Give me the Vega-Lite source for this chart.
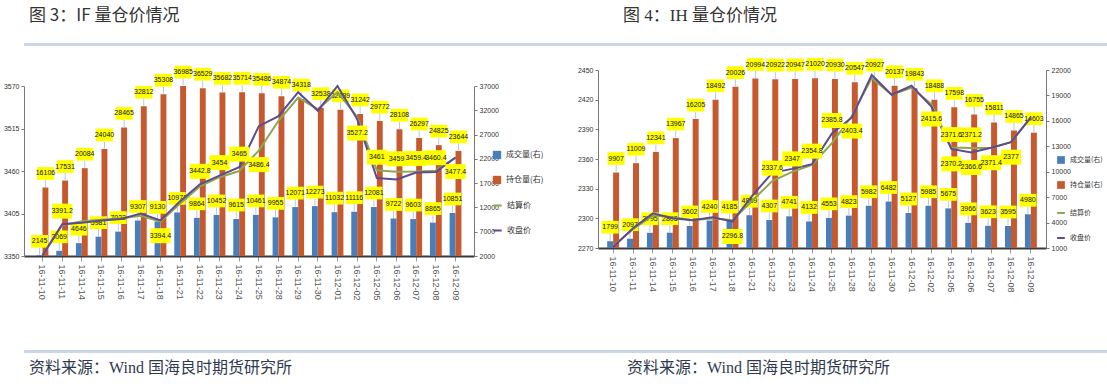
{
"$schema":"https://vega.github.io/schema/vega-lite/v6.json",
"background":"white",
"padding":{"left":0,"top":7,"right":0,"bottom":2},
"config":{"view":{"stroke":null},"font":"Noto Sans CJK SC","legend":{"labelFont":"Noto Sans CJK SC"}},
"datasets":{
"IF":[
{"d":"16-11-10","成交量(右)":2145,"持仓量(右)":16106,"结算价":3351,"收盘价":3350.6},
{"d":"16-11-11","成交量(右)":3069,"持仓量(右)":17531,"结算价":3390,"收盘价":3391.2},
{"d":"16-11-14","成交量(右)":4646,"持仓量(右)":20084,"结算价":3395,"收盘价":3393},
{"d":"16-11-15","成交量(右)":5981,"持仓量(右)":24040,"结算价":3397,"收盘价":3396},
{"d":"16-11-16","成交量(右)":7022,"持仓量(右)":28465,"结算价":3399,"收盘价":3398},
{"d":"16-11-17","成交量(右)":9307,"持仓量(右)":32812,"结算价":3402,"收盘价":3405},
{"d":"16-11-18","成交量(右)":9130,"持仓量(右)":35308,"结算价":3394.4,"收盘价":3396},
{"d":"16-11-21","成交量(右)":10971,"持仓量(右)":36985,"结算价":3418,"收盘价":3421},
{"d":"16-11-22","成交量(右)":9864,"持仓量(右)":36529,"结算价":3440,"收盘价":3442.8},
{"d":"16-11-23","成交量(右)":10452,"持仓量(右)":35682,"结算价":3452,"收盘价":3454},
{"d":"16-11-24","成交量(右)":9615,"持仓量(右)":35714,"结算价":3460,"收盘价":3465},
{"d":"16-11-25","成交量(右)":10461,"持仓量(右)":35486,"结算价":3486.4,"收盘价":3518},
{"d":"16-11-28","成交量(右)":9955,"持仓量(右)":34874,"结算价":3525,"收盘价":3531},
{"d":"16-11-29","成交量(右)":12071,"持仓量(右)":34318,"结算价":3555,"收盘价":3562},
{"d":"16-11-30","成交量(右)":12273,"持仓量(右)":32538,"结算价":3540,"收盘价":3538},
{"d":"16-12-01","成交量(右)":11032,"持仓量(右)":32089,"结算价":3562,"收盘价":3570},
{"d":"16-12-02","成交量(右)":11116,"持仓量(右)":31242,"结算价":3530,"收盘价":3527.2},
{"d":"16-12-05","成交量(右)":12081,"持仓量(右)":29772,"结算价":3461,"收盘价":3451},
{"d":"16-12-06","成交量(右)":9722,"持仓量(右)":28108,"结算价":3459,"收盘价":3449},
{"d":"16-12-07","成交量(右)":9603,"持仓量(右)":26297,"结算价":3459.4,"收盘价":3458},
{"d":"16-12-08","成交量(右)":8865,"持仓量(右)":24825,"结算价":3460.4,"收盘价":3458.8},
{"d":"16-12-09","成交量(右)":10851,"持仓量(右)":23644,"结算价":3477.4,"收盘价":3477.4}
],
"IFlabA":[
{"d":"16-11-11","v":3391.2},{"d":"16-11-22","v":3442.8},{"d":"16-11-23","v":3454},{"d":"16-11-24","v":3465},{"d":"16-12-05","v":3461},{"d":"16-12-06","v":3459},{"d":"16-12-07","v":3459.4},{"d":"16-12-08","v":3460.4}
],
"IFlabB":[
{"d":"16-11-18","v":3394.4},{"d":"16-11-25","v":3486.4},{"d":"16-12-02","v":3527.2},{"d":"16-12-09","v":3477.4}
],
"IH":[
{"d":"16-11-10","成交量(右)":1799,"持仓量(右)":9907,"结算价":2272,"收盘价":2271},
{"d":"16-11-11","成交量(右)":2097,"持仓量(右)":11009,"结算价":2289,"收盘价":2290},
{"d":"16-11-14","成交量(右)":2795,"持仓量(右)":12341,"结算价":2303,"收盘价":2305},
{"d":"16-11-15","成交量(右)":2803,"持仓量(右)":13967,"结算价":2301,"收盘价":2300},
{"d":"16-11-16","成交量(右)":3602,"持仓量(右)":16205,"结算价":2298,"收盘价":2298},
{"d":"16-11-17","成交量(右)":4240,"持仓量(右)":18492,"结算价":2300,"收盘价":2301},
{"d":"16-11-18","成交量(右)":4185,"持仓量(右)":20026,"结算价":2298,"收盘价":2296.8},
{"d":"16-11-21","成交量(右)":4869,"持仓量(右)":20994,"结算价":2318,"收盘价":2323},
{"d":"16-11-22","成交量(右)":4307,"持仓量(右)":20922,"结算价":2337.6,"收盘价":2346},
{"d":"16-11-23","成交量(右)":4741,"持仓量(右)":20947,"结算价":2347,"收盘价":2350},
{"d":"16-11-24","成交量(右)":4132,"持仓量(右)":21020,"结算价":2354,"收盘价":2354.8},
{"d":"16-11-25","成交量(右)":4553,"持仓量(右)":20930,"结算价":2376,"收盘价":2385.8},
{"d":"16-11-28","成交量(右)":4823,"持仓量(右)":20547,"结算价":2403.4,"收盘价":2402},
{"d":"16-11-29","成交量(右)":5982,"持仓量(右)":20927,"结算价":2442,"收盘价":2445},
{"d":"16-11-30","成交量(右)":6482,"持仓量(右)":20137,"结算价":2425,"收盘价":2425},
{"d":"16-12-01","成交量(右)":5127,"持仓量(右)":19843,"结算价":2432,"收盘价":2434},
{"d":"16-12-02","成交量(右)":5985,"持仓量(右)":18488,"结算价":2415.6,"收盘价":2413},
{"d":"16-12-05","成交量(右)":5675,"持仓量(右)":17598,"结算价":2371.6,"收盘价":2370.2},
{"d":"16-12-06","成交量(右)":3966,"持仓量(右)":16755,"结算价":2371.2,"收盘价":2366.6},
{"d":"16-12-07","成交量(右)":3623,"持仓量(右)":15811,"结算价":2371,"收盘价":2371.4},
{"d":"16-12-08","成交量(右)":3595,"持仓量(右)":14865,"结算价":2377,"收盘价":2377},
{"d":"16-12-09","成交量(右)":4980,"持仓量(右)":14603,"结算价":2402,"收盘价":2402}
],
"IHlabA":[
{"d":"16-11-22","v":2337.6},{"d":"16-11-23","v":2347},{"d":"16-11-24","v":2354.8},{"d":"16-11-25","v":2385.8},{"d":"16-12-05","v":2371.6},{"d":"16-12-06","v":2371.2}
],
"IHlabB":[
{"d":"16-11-18","v":2296.8},{"d":"16-11-28","v":2403.4},{"d":"16-12-02","v":2415.6},{"d":"16-12-05","v":2370.2},{"d":"16-12-06","v":2366.6},{"d":"16-12-07","v":2371.4},{"d":"16-12-08","v":2377}
]
},
"spacing":11,
"vconcat":[
{"hconcat":[
 {"width":555,"height":3,"data":{"values":[]},"mark":"point","encoding":{},"view":{"fill":"#cbd6e6","stroke":null},
  "title":{"text":"图 3：IF 量仓价情况","orient":"top","anchor":"start","dx":5,"offset":18,"fontSize":17,"fontWeight":"normal","color":"#333333","font":"Noto Sans CJK SC"}},
 {"width":552,"height":3,"data":{"values":[]},"mark":"point","encoding":{},"view":{"fill":"#cbd6e6","stroke":null},
  "title":{"text":"图 4：IH 量仓价情况","orient":"top","anchor":"start","dx":44,"offset":18,"fontSize":17,"fontWeight":"normal","color":"#333333","font":"Liberation Serif, Noto Sans CJK SC"}}
],"spacing":0,"bounds":"flush"},
{"vconcat":[
 {"hconcat":[
   {"vconcat":[
    {"width":1,"height":1,"data":{"values":[]},"mark":"point","encoding":{}},
    {"width":450,"height":170,
     "layer":[
      {"data":{"name":"IF"},"transform":[{"fold":["成交量(右)","持仓量(右)"],"as":["k","v"]}],
       "encoding":{
        "x":{"field":"d","type":"ordinal","sort":null,"scale":{"paddingInner":0.4,"paddingOuter":0.64},"axis":{"title":null,"labelAngle":90,"labelFontSize":9,"labelColor":"#555555","labelFont":"Liberation Sans","domainColor":"#3a3a3a","domainWidth":2,"tickColor":"#999999","tickSize":5,"labelPadding":3}},
        "xOffset":{"field":"k","type":"nominal","sort":["成交量(右)","持仓量(右)"],"scale":{"paddingInner":0,"paddingOuter":0}},
        "y":{"field":"v","type":"quantitative","scale":{"domain":[2000,37000],"nice":false,"zero":false},"axis":{"orient":"right","title":null,"values":[2000,7000,12000,17000,22000,27000,32000,37000],"format":"d","labelFontSize":7,"labelFont":"Liberation Sans Narrow, Liberation Sans","labelColor":"#333333","domainColor":"#777777","tickColor":"#777777","tickSize":3,"grid":false}}
       },
       "layer":[
        {"mark":{"type":"bar","clip":true},
         "encoding":{"color":{"field":"k","type":"nominal","sort":["成交量(右)","持仓量(右)"],"scale":{"domain":["成交量(右)","持仓量(右)"],"range":["#4a7ebb","#c65a2e"]},
          "legend":{"orient":"none","legendX":468,"legendY":80,"title":null,"labelFontSize":8,"rowPadding":15,"symbolSize":70,"symbolType":"square","labelColor":"#333333"}}}},
        {"mark":{"type":"tick","orient":"vertical","size":7,"thickness":0.8,"yOffset":-4,"color":"#7f9fcf"}},
        {"mark":{"type":"point","shape":"M-1,-0.75H1V0.75H-1Z","size":289,"filled":true,"color":"#ffff00","opacity":1,"yOffset":-14}},
        {"mark":{"type":"text","fontSize":7,"font":"Liberation Sans Narrow, Liberation Sans","yOffset":-14,"baseline":"middle","color":"#111111"},
         "encoding":{"text":{"field":"v","type":"quantitative","format":"d"}}}
       ]},
      {"encoding":{
        "x":{"field":"d","type":"ordinal","sort":null,"scale":{"paddingInner":0.4,"paddingOuter":0.64},"axis":{"title":null,"labelAngle":90,"labelFontSize":9,"labelColor":"#555555","labelFont":"Liberation Sans","domainColor":"#3a3a3a","domainWidth":2,"tickColor":"#999999","tickSize":5,"labelPadding":3}},
        "y":{"field":"v","type":"quantitative","scale":{"domain":[3350,3570],"nice":false,"zero":false},"axis":{"orient":"left","title":null,"minExtent":24,"values":[3350,3405,3460,3515,3570],"format":"d","labelFontSize":7,"labelFont":"Liberation Sans Narrow, Liberation Sans","labelColor":"#333333","domainColor":"#777777","tickColor":"#777777","tickSize":3,"grid":false}}
       },
       "layer":[
        {"data":{"name":"IF"},"transform":[{"fold":["结算价","收盘价"],"as":["k","v"]}],
         "mark":{"type":"line","strokeWidth":2},
         "encoding":{"stroke":{"field":"k","type":"nominal","sort":["结算价","收盘价"],"scale":{"domain":["结算价","收盘价"],"range":["#8aa94f","#5d4a8f"]},
          "legend":{"orient":"none","legendX":468,"legendY":130,"title":null,"labelFontSize":8,"rowPadding":15,"symbolStrokeWidth":2,"symbolSize":70,"labelColor":"#333333"}}}},
        {"data":{"name":"IFlabA"},"mark":{"type":"point","shape":"M-1,-0.75H1V0.75H-1Z","size":400,"filled":true,"color":"#ffff00","opacity":1,"yOffset":-13}},
        {"data":{"name":"IFlabA"},"mark":{"type":"text","fontSize":7,"font":"Liberation Sans Narrow, Liberation Sans","yOffset":-13,"baseline":"middle","color":"#111111"},
         "encoding":{"text":{"field":"v","type":"quantitative","format":".1~f"}}},
        {"data":{"name":"IFlabB"},"mark":{"type":"point","shape":"M-1,-0.75H1V0.75H-1Z","size":400,"filled":true,"color":"#ffff00","opacity":1,"yOffset":14}},
        {"data":{"name":"IFlabB"},"mark":{"type":"text","fontSize":7,"font":"Liberation Sans Narrow, Liberation Sans","yOffset":14,"baseline":"middle","color":"#111111"},
         "encoding":{"text":{"field":"v","type":"quantitative","format":".1~f"}}}
       ]}
     ],
     "resolve":{"scale":{"y":"independent"}}}
   ],"spacing":15,"bounds":"flush"},
   {"width":448,"height":178,
     "layer":[
      {"data":{"name":"IH"},"transform":[{"fold":["成交量(右)","持仓量(右)"],"as":["k","v"]}],
       "encoding":{
        "x":{"field":"d","type":"ordinal","sort":null,"scale":{"paddingInner":0.4,"paddingOuter":0.46},"axis":{"title":null,"labelAngle":90,"labelFontSize":9,"labelColor":"#555555","labelFont":"Liberation Sans","domainColor":"#3a3a3a","domainWidth":2,"tickColor":"#999999","tickSize":5,"labelPadding":3}},
        "xOffset":{"field":"k","type":"nominal","sort":["成交量(右)","持仓量(右)"],"scale":{"paddingInner":0,"paddingOuter":0}},
        "y":{"field":"v","type":"quantitative","scale":{"domain":[1000,22000],"nice":false,"zero":false},"axis":{"orient":"right","title":null,"values":[1000,4000,7000,10000,13000,16000,19000,22000],"format":"d","labelFontSize":7,"labelFont":"Liberation Sans Narrow, Liberation Sans","labelColor":"#333333","domainColor":"#777777","tickColor":"#777777","tickSize":3,"grid":false}}
       },
       "layer":[
        {"mark":{"type":"bar","clip":true},
         "encoding":{"color":{"field":"k","type":"nominal","sort":["成交量(右)","持仓量(右)"],"scale":{"domain":["成交量(右)","持仓量(右)"],"range":["#4a7ebb","#c65a2e"]},
          "legend":{"orient":"none","legendX":458,"legendY":85,"title":null,"labelFontSize":7,"rowPadding":16,"symbolSize":60,"symbolType":"square","labelColor":"#333333"}}}},
        {"mark":{"type":"tick","orient":"vertical","size":7,"thickness":0.8,"yOffset":-4,"color":"#7f9fcf"}},
        {"mark":{"type":"point","shape":"M-1,-0.75H1V0.75H-1Z","size":289,"filled":true,"color":"#ffff00","opacity":1,"yOffset":-14}},
        {"mark":{"type":"text","fontSize":7,"font":"Liberation Sans Narrow, Liberation Sans","yOffset":-14,"baseline":"middle","color":"#111111"},
         "encoding":{"text":{"field":"v","type":"quantitative","format":"d"}}}
       ]},
      {"encoding":{
        "x":{"field":"d","type":"ordinal","sort":null,"scale":{"paddingInner":0.4,"paddingOuter":0.46},"axis":{"title":null,"labelAngle":90,"labelFontSize":9,"labelColor":"#555555","labelFont":"Liberation Sans","domainColor":"#3a3a3a","domainWidth":2,"tickColor":"#999999","tickSize":5,"labelPadding":3}},
        "y":{"field":"v","type":"quantitative","scale":{"domain":[2270,2450],"nice":false,"zero":false},"axis":{"orient":"left","title":null,"minExtent":22,"values":[2270,2300,2330,2360,2390,2420,2450],"format":"d","labelFontSize":7,"labelFont":"Liberation Sans Narrow, Liberation Sans","labelColor":"#333333","domainColor":"#777777","tickColor":"#777777","tickSize":3,"grid":false}}
       },
       "layer":[
        {"data":{"name":"IH"},"transform":[{"fold":["结算价","收盘价"],"as":["k","v"]}],
         "mark":{"type":"line","strokeWidth":2},
         "encoding":{"stroke":{"field":"k","type":"nominal","sort":["结算价","收盘价"],"scale":{"domain":["结算价","收盘价"],"range":["#8aa94f","#5d4a8f"]},
          "legend":{"orient":"none","legendX":458,"legendY":138,"title":null,"labelFontSize":7,"rowPadding":16,"symbolStrokeWidth":2,"symbolSize":60,"labelColor":"#333333"}}}},
        {"data":{"name":"IHlabA"},"mark":{"type":"point","shape":"M-1,-0.75H1V0.75H-1Z","size":400,"filled":true,"color":"#ffff00","opacity":1,"yOffset":-13}},
        {"data":{"name":"IHlabA"},"mark":{"type":"text","fontSize":7,"font":"Liberation Sans Narrow, Liberation Sans","yOffset":-13,"baseline":"middle","color":"#111111"},
         "encoding":{"text":{"field":"v","type":"quantitative","format":".1~f"}}},
        {"data":{"name":"IHlabB"},"mark":{"type":"point","shape":"M-1,-0.75H1V0.75H-1Z","size":400,"filled":true,"color":"#ffff00","opacity":1,"yOffset":15}},
        {"data":{"name":"IHlabB"},"mark":{"type":"text","fontSize":7,"font":"Liberation Sans Narrow, Liberation Sans","yOffset":15,"baseline":"middle","color":"#111111"},
         "encoding":{"text":{"field":"v","type":"quantitative","format":".1~f"}}}
       ]}
     ],
     "resolve":{"scale":{"y":"independent"}}}
 ],"spacing":32,
 "resolve":{"scale":{"color":"independent","stroke":"independent","xOffset":"independent","x":"independent"},"legend":{"color":"independent","stroke":"independent"}}},
 {"hconcat":[
  {"width":555,"height":3,"data":{"values":[]},"mark":"point","encoding":{},"view":{"fill":"#cbd6e6","stroke":null},
   "title":{"text":"资料来源：Wind 国海良时期货研究所","orient":"bottom","anchor":"start","dx":5,"offset":7,"fontSize":16,"fontWeight":"normal","color":"#2e3a4e","font":"Liberation Serif, Noto Sans CJK SC"}},
  {"width":552,"height":3,"data":{"values":[]},"mark":"point","encoding":{},"view":{"fill":"#cbd6e6","stroke":null},
   "title":{"text":"资料来源：Wind 国海良时期货研究所","orient":"bottom","anchor":"start","dx":48,"offset":7,"fontSize":16,"fontWeight":"normal","color":"#2e3a4e","font":"Liberation Serif, Noto Sans CJK SC"}}
 ],"spacing":0,"bounds":"flush"}
],"spacing":49}
]
}
